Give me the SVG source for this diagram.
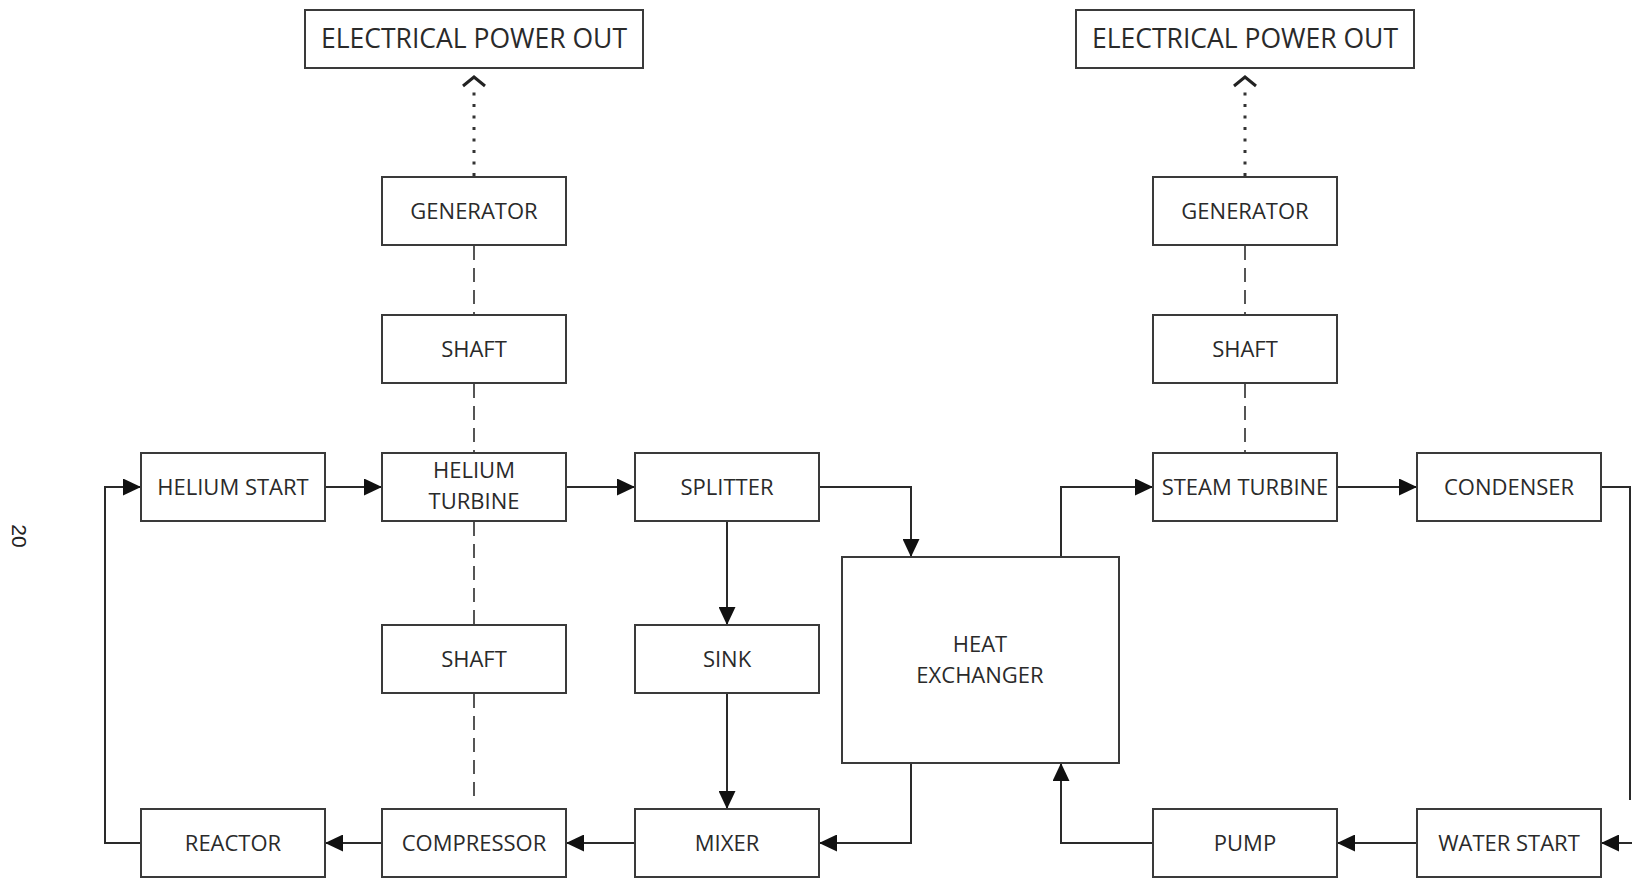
<svg xmlns="http://www.w3.org/2000/svg" width="1632" height="879" viewBox="0 0 1632 879">
<defs>
<style>
.box{fill:#fff;stroke:#3a3a3a;stroke-width:2}
.t{font-family:"Open Sans","Liberation Sans",sans-serif;font-size:22px;fill:#2a2a2a;text-anchor:middle}
.big{font-size:26.5px}
.ln{fill:none;stroke:#2a2a2a;stroke-width:2}
.dash{fill:none;stroke:#555;stroke-width:2;stroke-dasharray:14 8}
.dot{fill:none;stroke:#333;stroke-width:3;stroke-dasharray:3 8.5}
.chev{fill:none;stroke:#222;stroke-width:3}
</style>
<marker id="arr" viewBox="0 0 18 17" refX="18" refY="8.5" markerWidth="18" markerHeight="17" orient="auto" markerUnits="userSpaceOnUse">
<path d="M0,0 L18,8.5 L0,17 Z" fill="#111"/>
</marker>
</defs>
<rect width="1632" height="879" fill="#fff"/>

<g id="connectors">
<!-- mechanical links -->
<line class="dot" x1="474" y1="176" x2="474" y2="86"/>
<polyline class="chev" points="463,86 474,77 485,86"/>
<line class="dot" x1="1245" y1="176" x2="1245" y2="86"/>
<polyline class="chev" points="1234,86 1245,77 1256,86"/>
<line class="dash" x1="474" y1="246" x2="474" y2="315"/>
<line class="dash" x1="474" y1="384" x2="474" y2="453"/>
<line class="dash" x1="474" y1="522" x2="474" y2="625"/>
<line class="dash" x1="474" y1="694" x2="474" y2="803"/>
<line class="dash" x1="1245" y1="246" x2="1245" y2="315"/>
<line class="dash" x1="1245" y1="384" x2="1245" y2="453"/>
<!-- helium loop -->
<line class="ln" x1="325" y1="487" x2="382" y2="487" marker-end="url(#arr)"/>
<line class="ln" x1="566" y1="487" x2="635" y2="487" marker-end="url(#arr)"/>
<polyline class="ln" points="819,487 911,487 911,557" marker-end="url(#arr)"/>
<line class="ln" x1="727" y1="521" x2="727" y2="625" marker-end="url(#arr)"/>
<line class="ln" x1="727" y1="693" x2="727" y2="809" marker-end="url(#arr)"/>
<polyline class="ln" points="911,763 911,843 819,843" marker-end="url(#arr)"/>
<line class="ln" x1="635" y1="843" x2="566" y2="843" marker-end="url(#arr)"/>
<line class="ln" x1="382" y1="843" x2="325" y2="843" marker-end="url(#arr)"/>
<polyline class="ln" points="141,843 105,843 105,487 141,487" marker-end="url(#arr)"/>
<!-- water loop -->
<polyline class="ln" points="1061,557 1061,487 1153,487" marker-end="url(#arr)"/>
<line class="ln" x1="1337" y1="487" x2="1417" y2="487" marker-end="url(#arr)"/>
<polyline class="ln" points="1601,487 1630,487 1630,800"/>
<line class="ln" x1="1632" y1="843" x2="1601" y2="843" marker-end="url(#arr)"/>
<line class="ln" x1="1417" y1="843" x2="1337" y2="843" marker-end="url(#arr)"/>
<polyline class="ln" points="1153,843 1061,843 1061,763" marker-end="url(#arr)"/>
</g>

<g id="epo-left"><rect class="box" x="305" y="10" width="338" height="58"/><text class="t big" x="474" y="48">ELECTRICAL POWER OUT</text></g>
<g id="epo-right"><rect class="box" x="1076" y="10" width="338" height="58"/><text class="t big" x="1245" y="48">ELECTRICAL POWER OUT</text></g>
<g id="generator-left"><rect class="box" x="382" y="177" width="184" height="68"/><text class="t" x="474" y="219">GENERATOR</text></g>
<g id="generator-right"><rect class="box" x="1153" y="177" width="184" height="68"/><text class="t" x="1245" y="219">GENERATOR</text></g>
<g id="shaft-top-left"><rect class="box" x="382" y="315" width="184" height="68"/><text class="t" x="474" y="357">SHAFT</text></g>
<g id="shaft-top-right"><rect class="box" x="1153" y="315" width="184" height="68"/><text class="t" x="1245" y="357">SHAFT</text></g>
<g id="helium-start"><rect class="box" x="141" y="453" width="184" height="68"/><text class="t" x="233" y="495">HELIUM START</text></g>
<g id="helium-turbine"><rect class="box" x="382" y="453" width="184" height="68"/><text class="t" x="474" y="478">HELIUM</text><text class="t" x="474" y="509">TURBINE</text></g>
<g id="splitter"><rect class="box" x="635" y="453" width="184" height="68"/><text class="t" x="727" y="495">SPLITTER</text></g>
<g id="steam-turbine"><rect class="box" x="1153" y="453" width="184" height="68"/><text class="t" x="1245" y="495">STEAM TURBINE</text></g>
<g id="condenser"><rect class="box" x="1417" y="453" width="184" height="68"/><text class="t" x="1509" y="495">CONDENSER</text></g>
<g id="heat-exchanger"><rect class="box" x="842" y="557" width="277" height="206"/><text class="t" x="980" y="652">HEAT</text><text class="t" x="980" y="683">EXCHANGER</text></g>
<g id="shaft-lower"><rect class="box" x="382" y="625" width="184" height="68"/><text class="t" x="474" y="667">SHAFT</text></g>
<g id="sink"><rect class="box" x="635" y="625" width="184" height="68"/><text class="t" x="727" y="667">SINK</text></g>
<g id="reactor"><rect class="box" x="141" y="809" width="184" height="68"/><text class="t" x="233" y="851">REACTOR</text></g>
<g id="compressor"><rect class="box" x="382" y="809" width="184" height="68"/><text class="t" x="474" y="851">COMPRESSOR</text></g>
<g id="mixer"><rect class="box" x="635" y="809" width="184" height="68"/><text class="t" x="727" y="851">MIXER</text></g>
<g id="pump"><rect class="box" x="1153" y="809" width="184" height="68"/><text class="t" x="1245" y="851">PUMP</text></g>
<g id="water-start"><rect class="box" x="1417" y="809" width="184" height="68"/><text class="t" x="1509" y="851">WATER START</text></g>

<g id="page-number"><text x="19" y="536" transform="rotate(90 19 536)" style="font-family:'Liberation Sans',sans-serif;font-size:21px;fill:#222;text-anchor:middle;dominant-baseline:central">20</text></g>
</svg>
